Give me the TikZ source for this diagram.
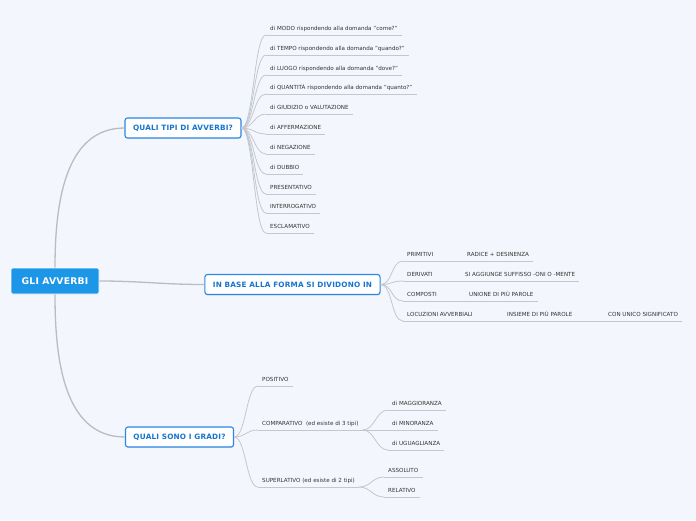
\documentclass[tikz,border=0pt]{standalone}
\usepackage{fontspec}
\setmainfont{DejaVu Sans}
\newfontfamily\widebold[LetterSpace=2.5]{DejaVu Sans}
\usetikzlibrary{positioning,shadows}

\definecolor{bgcol}{HTML}{F3F6FD}
\definecolor{rootcol}{HTML}{1C96E6}
\definecolor{topcol}{HTML}{2A87E6}
\definecolor{toptxt}{HTML}{1674CF}
\definecolor{linecol}{HTML}{C3C7CF}
\definecolor{leaftxt}{HTML}{333333}

\newcommand{\leaffont}{\fontsize{5.6}{6.5}\selectfont}

\begin{document}
\begin{tikzpicture}[x=1pt, y=-1pt]
        \tikzstyle{rootbox}=[fill=rootcol, draw=white, line width=.6pt, rounded corners=2pt, minimum width=88pt, minimum height=26pt, text=white, font=\widebold\fontsize{9.2}{10}\selectfont\bfseries]
        \tikzstyle{topbox}=[fill=white, draw=topcol, line width=1.1pt, rounded corners=2.5pt, minimum height=20pt, inner xsep=8pt, text=toptxt, font=\widebold\fontsize{7.3}{8}\selectfont\bfseries, drop shadow={opacity=.15, shadow xshift=.6pt, shadow yshift=-.9pt}]
        \tikzstyle{leaf}=[anchor=south west, inner xsep=4pt, inner ysep=3pt, text height=4pt, text depth=1pt, text=leaftxt, font=\leaffont,
                          append after command={(\tikzlastnode.south west) edge[draw=linecol, line width=.7pt] (\tikzlastnode.south east)}]
        \tikzstyle{rootline}=[draw=linecol!85!gray, line width=1.3pt]
        \tikzstyle{conn}=[draw=linecol, line width=.8pt]
        \tikzstyle{fan}=[out=0, in=180, distance=12pt]

        \useasboundingbox[fill=bgcol] (0,0) rectangle (696,520);

        % main topic and the three branches
        \node (root) [rootbox] at (55,281) {GLI AVVERBI};
        \node (q1) [topbox] at (183,128) {QUALI TIPI DI AVVERBI?};
        \node (q2) [topbox] at (292.5,284.5) {IN BASE ALLA FORMA SI DIVIDONO IN};
        \node (q3) [topbox] at (179.5,437) {QUALI SONO I GRADI?};

        % types
        \node (m1)  [leaf] at (266,35)  {di MODO rispondendo alla domanda "come?"};
        \node (m2)  [leaf] at (266,55)  {di TEMPO rispondendo alla domanda "quando?"};
        \node (m3)  [leaf] at (266,75)  {di LUOGO rispondendo alla domanda "dove?"};
        \node (m4)  [leaf] at (266,94)  {di QUANTITÀ rispondendo alla domanda "quanto?"};
        \node (m5)  [leaf] at (266,114) {di GIUDIZIO o VALUTAZIONE};
        \node (m6)  [leaf] at (266,134) {di AFFERMAZIONE};
        \node (m7)  [leaf] at (266,154) {di NEGAZIONE};
        \node (m8)  [leaf] at (266,174) {di DUBBIO};
        \node (m9)  [leaf] at (266,194) {PRESENTATIVO};
        \node (m10) [leaf] at (266,213) {INTERROGATIVO};
        \node (m11) [leaf] at (266,233) {ESCLAMATIVO};

        % form
        \node (f1) [leaf] at (403,261) {PRIMITIVI};
        \node (f2) [leaf] at (403,281) {DERIVATI};
        \node (f3) [leaf] at (403,301) {COMPOSTI};
        \node (f4) [leaf] at (403,321) {LOCUZIONI AVVERBIALI};
        \node (f1a) [leaf] at (463,261) {RADICE + DESINENZA};
        \node (f2a) [leaf] at (461,281) {SI AGGIUNGE SUFFISSO -ONI O -MENTE};
        \node (f3a) [leaf] at (465,301) {UNIONE DI PIÙ PAROLE};
        \node (f4a) [leaf] at (503,321) {INSIEME DI PIÙ PAROLE};
        \node (f4b) [leaf] at (604,321) {CON UNICO SIGNIFICATO};

        % degrees
        \node (g1) [leaf] at (258,386) {POSITIVO};
        \node (g2) [leaf] at (258,430) {COMPARATIVO~ (ed esiste di 3 tipi)};
        \node (g3) [leaf] at (258,487) {SUPERLATIVO (ed esiste di 2 tipi)};
        \node (g2a) [leaf] at (388,410) {di MAGGIORANZA};
        \node (g2b) [leaf] at (388,430) {di MINORANZA};
        \node (g2c) [leaf] at (388,450) {di UGUAGLIANZA};
        \node (g3a) [leaf] at (384,477) {ASSOLUTO};
        \node (g3b) [leaf] at (384,497) {RELATIVO};

        \path[rootline] (root.north) edge [out=90, in=180] (q1.west)
                        (root.east)  edge [out=0, in=180]  (q2.west)
                        (root.south) edge [out=-90, in=180] (q3.west);

        \path[conn] (q1.east) edge [fan] (m1.south west)
                    (q1.east) edge [fan] (m2.south west)
                    (q1.east) edge [fan] (m3.south west)
                    (q1.east) edge [fan] (m4.south west)
                    (q1.east) edge [fan] (m5.south west)
                    (q1.east) edge [fan] (m6.south west)
                    (q1.east) edge [fan] (m7.south west)
                    (q1.east) edge [fan] (m8.south west)
                    (q1.east) edge [fan] (m9.south west)
                    (q1.east) edge [fan] (m10.south west)
                    (q1.east) edge [fan] (m11.south west);

        \path[conn] (q2.east) edge [fan] (f1.south west)
                    (q2.east) edge [fan] (f2.south west)
                    (q2.east) edge [fan] (f3.south west)
                    (q2.east) edge [fan] (f4.south west)
                    (f1.south east) edge (f1a.south west)
                    (f2.south east) edge (f2a.south west)
                    (f3.south east) edge (f3a.south west)
                    (f4.south east) edge (f4a.south west)
                    (f4a.south east) edge (f4b.south west);

        \path[conn] (q3.east) edge [fan] (g1.south west)
                    (q3.east) edge [fan] (g2.south west)
                    (q3.east) edge [fan] (g3.south west)
                    (g2.south east) edge [fan] (g2a.south west)
                    (g2.south east) edge [fan] (g2b.south west)
                    (g2.south east) edge [fan] (g2c.south west)
                    (g3.south east) edge [fan] (g3a.south west)
                    (g3.south east) edge [fan] (g3b.south west);

    \end{tikzpicture}
\end{document}
